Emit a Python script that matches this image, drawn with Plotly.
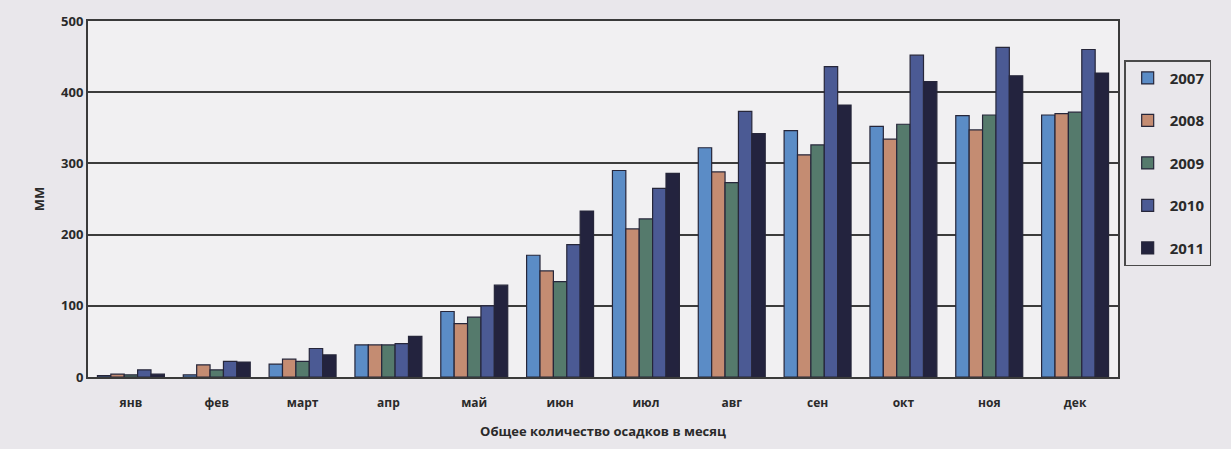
import plotly.graph_objects as go

months = ["янв", "фев", "март", "апр", "май", "июн", "июл", "авг", "сен", "окт", "ноя", "дек"]
years = ["2007", "2008", "2009", "2010", "2011"]

v2007 = [2, 3, 18, 45, 92, 171, 290, 322, 346, 352, 367, 368]
v2008 = [4, 17, 25, 45, 75, 149, 208, 288, 312, 334, 347, 370]
v2009 = [3, 10, 22, 45, 84, 134, 222, 273, 326, 355, 368, 372]
v2010 = [10, 22, 40, 47, 100, 186, 265, 373, 436, 452, 463, 460]
v2011 = [4, 21, 31, 57, 129, 233, 286, 342, 382, 415, 423, 427]

series = [v2007, v2008, v2009, v2010, v2011]
colors = ["#5b8cc6", "#c48c72", "#557a6c", "#4b5a94", "#23233e"]

fig = go.Figure()
for name, vals, col in zip(years, series, colors):
    fig.add_trace(go.Bar(
        x=months, y=vals, name=name, legendgroup=name,
        marker=dict(color=col, line=dict(color="#26263a", width=1.2)),
    ))

font_main = dict(family="Open Sans", size=13, color="#2a2a2a", weight="bold")

fig.update_layout(
    width=1231, height=449,
    barmode="group", bargap=0.22, bargroupgap=0,
    paper_bgcolor="#e9e7eb", plot_bgcolor="#f1f0f2",
    margin=dict(l=88, r=113, t=17, b=72),
    font=font_main,
    showlegend=True,
    legend=dict(
        x=1.006, xanchor="left", y=0.89, yanchor="top",
        bgcolor="rgba(0,0,0,0)", bordercolor="#4a4a4a", borderwidth=1.5,
        font=dict(family="Open Sans", size=15, color="#2a2a2a", weight="bold"),
        itemwidth=34, tracegroupgap=20,
    ),
    xaxis=dict(
        showline=True, linecolor="#3a3a3a", linewidth=2, mirror=True,
        ticks="outside", ticklen=14, tickcolor="rgba(0,0,0,0)",
        tickfont=dict(family="Open Sans", size=12, color="#2a2a2a", weight="bold"),
        title=dict(text="Общее количество осадков в месяц",
                   font=dict(family="Open Sans", size=13, color="#2a2a2a", weight="bold"),
                   standoff=16),
    ),
    yaxis=dict(
        range=[0, 500], dtick=100,
        showline=True, linecolor="#3a3a3a", linewidth=2, mirror=True,
        showgrid=True, gridcolor="#3c3c3c", gridwidth=1.5,
        zeroline=False,
        tickfont=dict(family="Open Sans", size=13, color="#2a2a2a", weight="bold"),
        title=dict(text="ММ", font=dict(family="Open Sans", size=13, color="#2a2a2a", weight="bold"),
                   standoff=14),
    ),
)

fig.write_html("out.html")
